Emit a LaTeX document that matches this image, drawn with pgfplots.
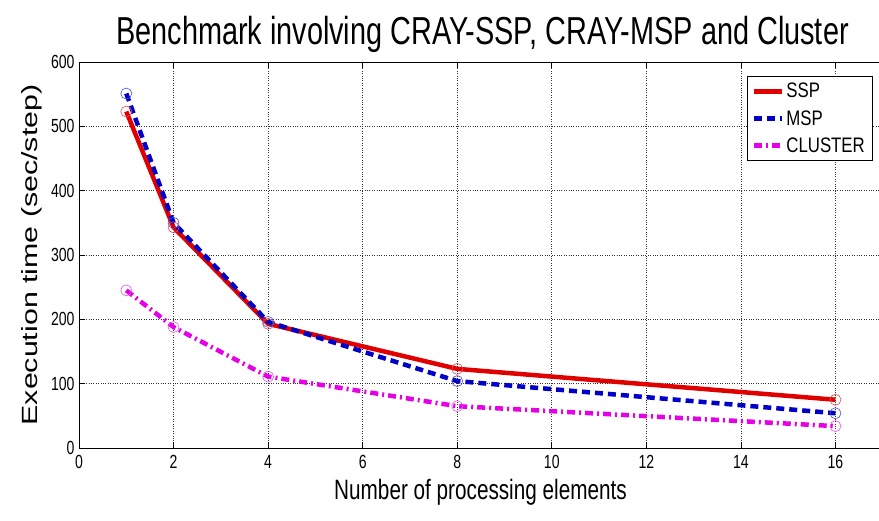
\documentclass[border=0pt]{standalone}
\usepackage{pgfplots}
\pgfplotsset{compat=1.18}
\usepackage{fontspec}
\setmainfont{Liberation Sans}
\newfontfamily\narrowfont[FakeStretch=0.74]{Liberation Sans}
\newfontfamily\legfont[FakeStretch=0.8]{Liberation Sans}
\newfontfamily\wideofont[FakeStretch=1.38]{Liberation Sans}
\definecolor{sspred}{RGB}{225,0,0}
\definecolor{mspblue}{RGB}{0,0,200}
\definecolor{clmag}{RGB}{230,0,230}
\begin{document}
\begin{tikzpicture}[x=1pt,y=1pt]
\useasboundingbox (-79,-73) rectangle (800,448);
\clip (-79,-73) rectangle (800,448);
\begin{axis}[
  scale only axis, width=851pt, height=386pt,
  at={(0,0)}, anchor=south west,
  xmin=0, xmax=18, ymin=0, ymax=600,
  xtick={0,2,...,16}, ytick={0,100,...,600},
  grid=major, grid style={black!80, dotted, line width=0.6pt},
  tick align=inside, tick pos=both,
  major tick length=6pt,
  axis line style={line width=0.8pt},
  tick style={black, line width=0.6pt},
  font=\narrowfont,
  tick label style={font=\narrowfont\fontsize{19}{19}\selectfont},
  xticklabel style={yshift=-4pt},
  yticklabel style={xshift=-1pt},
  /pgf/number format/assume math mode=true,
  xlabel={Number of processing elements},
  ylabel={Execution time (sec/step)},
  xlabel style={font=\narrowfont\fontsize{28}{28}\selectfont, yshift=-3pt, xshift=-24pt},
  ylabel style={font=\wideofont\fontsize{22}{22}\selectfont, yshift=2pt},
  title={Benchmark involving CRAY-SSP, CRAY-MSP and Cluster},
  title style={font=\narrowfont\fontsize{39}{39}\selectfont, xshift=-22pt},
  legend style={at={(0.932,0.964)}, anchor=north east, font=\legfont\fontsize{21}{21}\selectfont,
    draw=black, line width=0.6pt, row sep=7pt, inner xsep=5pt, inner ysep=5pt},
  legend cell align=left,
  legend image code/.code={\draw[#1] (0pt,0pt) -- (28pt,0pt);},
  every axis plot/.append style={line width=4.5pt},
]
\addplot[sspred, solid, mark=o, mark options={solid, line width=0.6pt, draw=sspred!70, mark size=5.5pt}] coordinates {(1,523) (2,343) (4,193) (8,123) (16,75)};
\addlegendentry{SSP}
\addplot[mspblue, dash pattern=on 8pt off 5pt, mark=o, mark options={solid, line width=0.6pt, draw=mspblue!70, mark size=5.5pt}] coordinates {(1,551) (2,350) (4,196) (8,104) (16,54)};
\addlegendentry{MSP}
\addplot[clmag, dash pattern=on 8pt off 4pt on 2pt off 4pt, mark=o, mark options={solid, line width=0.6pt, draw=clmag!70, mark size=5.5pt}] coordinates {(1,245) (2,188) (4,111) (8,65) (16,34)};
\addlegendentry{CLUSTER}
\end{axis}
\end{tikzpicture}
\end{document}
